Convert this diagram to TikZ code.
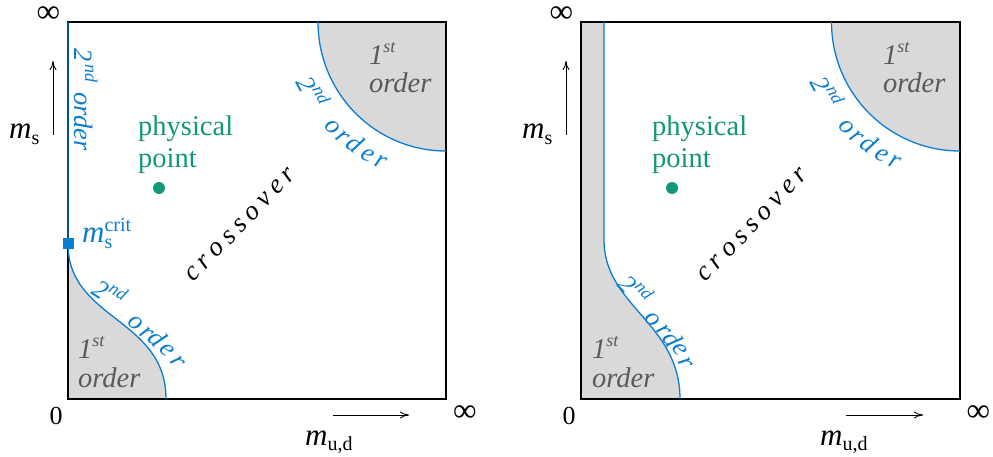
\documentclass[tikz,border=0pt]{standalone}
\usepackage{fontspec}
\setmainfont{Liberation Serif}
\usetikzlibrary{arrows.meta,calc}
\definecolor{lblue}{HTML}{0A7DCF}
\definecolor{lgreen}{HTML}{12977A}
\definecolor{lgray}{HTML}{D9D9D9}
\definecolor{tgray}{HTML}{5A5A5A}
\newcommand\fs[1]{\fontsize{#1}{#1}\selectfont}
\newcommand\supr[2]{\raisebox{#1}{\fs{18}#2}}
\newcommand\mlab[1]{{\fs{31}\itshape m}\raisebox{-5pt}{\fs{20}#1}}
\newcommand\spc{\kern5.5pt}
\begin{document}
\begin{tikzpicture}[x=1pt,y=1pt,
  frame/.style={draw=black, line width=1.5pt},
  crit/.style={draw=lblue, line width=1.3pt},
  ax/.style={-{To[length=9pt,width=7pt]}, line width=0.9pt},
  lab/.style={inner sep=0pt, font=\fs{28.5}},
  inf/.style={inner sep=0pt, font=\fs{33}},
  bl/.style={inner sep=0pt, text=lblue, font=\fs{26.5}\itshape},
  gr/.style={inner sep=0pt, text=tgray, font=\fs{28.5}\itshape, anchor=base west},
  grn/.style={inner sep=0pt, text=lgreen, font=\fs{28.5}, anchor=base west},
  cross/.style={inner sep=0pt, font=\fs{27}\itshape, rotate=46}
]
\useasboundingbox (0,0) rectangle (993,456);

% ---------------- left panel ----------------
\coordinate (cL) at (446,434);
\fill[lgray] (68,212) .. controls (68,136) and (166,138) .. (166,57) -- (68,57) -- cycle;
\fill[lgray] (318,434) arc[start angle=180,end angle=270,x radius=128,y radius=129] -- (cL) -- cycle;
\draw[frame] (68,57) rectangle (446,434);
\draw[crit] (68,434) -- (68,212) .. controls (68,136) and (166,138) .. (166,57);
\draw[crit] (318,434) arc[start angle=180,end angle=270,x radius=128,y radius=129];
\node[fill=lblue, minimum size=11pt, inner sep=0pt] (sqL) at (68,212.5) {};

\node[inf] (infTL) at (48.5,441.5) {∞};
\node[inf] (infRL) at (465,42.5) {∞};
\node[lab, font=\fs{26}] (zeroL) at (56,40) {0};
\node[lab, anchor=base west] (msL) at (9,317) {\mlab{s}};
\node[lab, anchor=base west] (mudL) at (305,11) {\mlab{u,d}};
\coordinate (upaL) at (53,321);
\coordinate (upbL) at (53,395);
\draw[ax] (upaL) -- (upbL);
\coordinate (raL) at (333,41);
\coordinate (rbL) at (409,41);
\draw[ax] (raL) -- (rbL);

\node[grn] (physL) at (138,320) {physical};
\node[grn] (pointL) at (138,288) {point};
\node[circle, fill=lgreen, minimum size=12pt, inner sep=0pt] (dotL) at (159,268) {};
\node[lab, anchor=base west, text=lblue] (critL) at (82,214) {{\fs{31}\itshape m}\rlap{\raisebox{11pt}{\fs{20}crit}}\raisebox{-6pt}{\fs{20}s}};

\node[cross] (crossL) at (241,231) {c\spc r\spc o\spc s\spc s\spc o\spc v\spc e\spc r};

\node[gr] (fo1L) at (78,98) {1\supr{12pt}{st}};
\node[gr] (fo2L) at (78,69) {order};
\node[gr] (fo3L) at (369,391) {1\supr{12pt}{st}};
\node[gr] (fo4L) at (369,363) {order};

\node[bl, rotate=-90, anchor=base west] (vsoL) at (74,408) {2\kern3pt\supr{11pt}{nd}\hspace{10pt}order};

\node[bl, anchor=base, rotate=-62.5] (a2L) at ($(cL)+(207.5:161)$) {2\supr{11pt}{nd}};
\node[bl, anchor=base, rotate=-47.1] (a3L) at ($(cL)+(222.9:161)$) {o};
\node[bl, anchor=base, rotate=-41.8] (a4L) at ($(cL)+(228.2:161)$) {r};
\node[bl, anchor=base, rotate=-36.9] (a5L) at ($(cL)+(233.1:161)$) {d};
\node[bl, anchor=base, rotate=-30.4] (a6L) at ($(cL)+(239.6:161)$) {e};
\node[bl, anchor=base, rotate=-24.9] (a7L) at ($(cL)+(245.1:161)$) {r};

\node[bl, rotate=-33] (b2L) at (110,164) {2\supr{11pt}{nd}};
\node[bl, rotate=-40] (b3L) at (136,133) {o};
\node[bl, rotate=-43] (b4L) at (146.5,122.5) {r};
\node[bl, rotate=-46] (b5L) at (157.5,118) {d};
\node[bl, rotate=-50] (b6L) at (166.5,105.5) {e};
\node[bl, rotate=-54] (b7L) at (177.5,94.5) {r};

% ---------------- right panel ----------------
\coordinate (cR) at (960,434);
\fill[lgray] (581,434) -- (604,434) -- (604,216) .. controls (604,150) and (680,133) .. (680,57) -- (581,57) -- cycle;
\fill[lgray] (831.5,434) arc[start angle=180,end angle=270,x radius=128.5,y radius=129] -- (cR) -- cycle;
\draw[frame] (581,57) rectangle (960,434);
\draw[crit] (604,434) -- (604,216) .. controls (604,150) and (680,133) .. (680,57);
\draw[crit] (831.5,434) arc[start angle=180,end angle=270,x radius=128.5,y radius=129];

\node[inf] (infTR) at (561.5,441.5) {∞};
\node[inf] (infRR) at (978.5,42.5) {∞};
\node[lab, font=\fs{26}] (zeroR) at (569,40) {0};
\node[lab, anchor=base west] (msR) at (522,317) {\mlab{s}};
\node[lab, anchor=base west] (mudR) at (820,11) {\mlab{u,d}};
\coordinate (upaR) at (566,321);
\coordinate (upbR) at (566,395);
\draw[ax] (upaR) -- (upbR);
\coordinate (raR) at (846,41);
\coordinate (rbR) at (923,41);
\draw[ax] (raR) -- (rbR);

\node[grn] (physR) at (652,320) {physical};
\node[grn] (pointR) at (652,288) {point};
\node[circle, fill=lgreen, minimum size=12pt, inner sep=0pt] (dotR) at (672,268) {};

\node[cross] (crossR) at (753,231) {c\spc r\spc o\spc s\spc s\spc o\spc v\spc e\spc r};

\node[gr] (fo1R) at (592,98) {1\supr{12pt}{st}};
\node[gr] (fo2R) at (592,69) {order};
\node[gr] (fo3R) at (883,391) {1\supr{12pt}{st}};
\node[gr] (fo4R) at (883,363) {order};

\node[bl, anchor=base, rotate=-62.5] (a2R) at ($(cR)+(207.5:161)$) {2\supr{11pt}{nd}};
\node[bl, anchor=base, rotate=-47.1] (a3R) at ($(cR)+(222.9:161)$) {o};
\node[bl, anchor=base, rotate=-41.8] (a4R) at ($(cR)+(228.2:161)$) {r};
\node[bl, anchor=base, rotate=-36.9] (a5R) at ($(cR)+(233.1:161)$) {d};
\node[bl, anchor=base, rotate=-30.4] (a6R) at ($(cR)+(239.6:161)$) {e};
\node[bl, anchor=base, rotate=-24.9] (a7R) at ($(cR)+(245.1:161)$) {r};

\node[bl, rotate=-47] (b2R) at (636,167) {2\supr{11pt}{nd}};
\node[bl, rotate=-50] (b3R) at (652.5,136) {o};
\node[bl, rotate=-53] (b4R) at (663.5,125) {r};
\node[bl, rotate=-56] (b5R) at (672.5,117) {d};
\node[bl, rotate=-59] (b6R) at (679.5,106.5) {e};
\node[bl, rotate=-62] (b7R) at (685.5,92.5) {r};
\end{tikzpicture}
\end{document}
